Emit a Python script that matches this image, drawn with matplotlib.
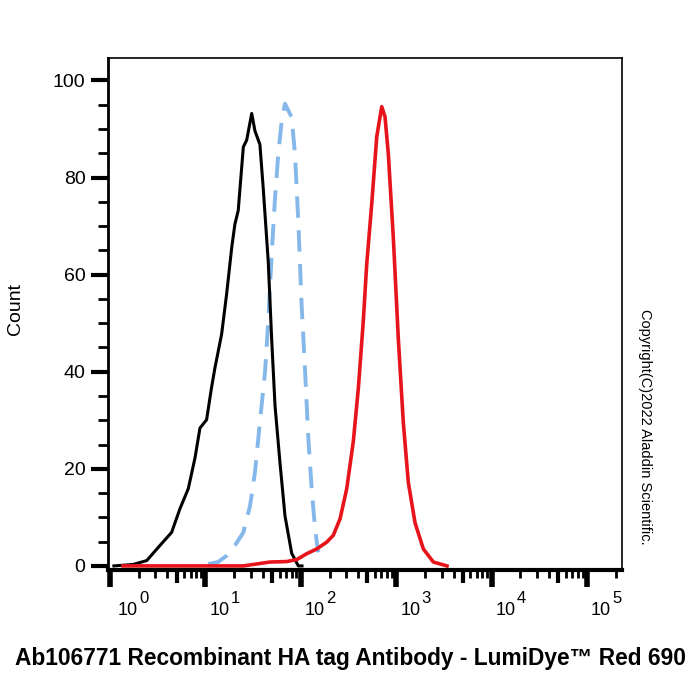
import matplotlib.pyplot as plt
from matplotlib.ticker import FixedLocator, NullFormatter
from matplotlib.transforms import blended_transform_factory, offset_copy

plt.rcParams['font.family'] = ['Liberation Sans', 'DejaVu Sans']

# isotype control (black)
black_x = [1.1, 1.75, 2.43, 3.34, 4.43, 5.42, 6.62, 7.78, 8.78, 10.3, 11.6, 12.6, 14.8,
           16.7, 18.9, 20.4, 22.1, 25.0, 27.1, 30.6, 33.1, 37.3, 40.4, 45.6, 49.5, 53.7,
           60.5, 68.3, 80.3, 94.2, 103]
black_y = [0, 0.3, 1.1, 4.2, 6.9, 11.8, 15.9, 22.2, 28.4, 30.1, 36.7, 40.8, 47.7,
           56, 65.6, 70.4, 73.2, 86.3, 87.7, 93.2, 89.6, 86.8, 77.8, 62.7, 46.8, 33,
           21.3, 10.3, 2.6, 0, 0]

# unstained (blue dashed)
blue_x = [10.7, 13.6, 16.7, 20.4, 25.0, 29.4, 33.1, 37.3, 42.2, 45.6, 49.5, 53.7, 58.1,
          63.1, 68.3, 80.3, 86.9, 94.2, 102, 111, 120, 130, 141, 152]
blue_y = [0.4, 0.8, 2.1, 4.2, 6.9, 12.4, 19.3, 29.6, 40, 50.3, 64.1, 75.8, 84.8,
          91.7, 95.2, 92.4, 84.8, 71, 53.8, 40, 26.2, 15.9, 7.7, 2.8]

# HA tag antibody (red)
red_x = [1.37, 25.0, 34.5, 47.5, 71.2, 90.6, 115, 147, 187, 219, 258, 303, 355, 401,
         452, 491, 554, 625, 705, 763, 827, 933, 1052, 1186, 1339, 1574, 1923, 2449, 3405]
red_y = [0, 0, 0.4, 0.8, 0.9, 1.3, 2.5, 3.5, 4.9, 6.3, 9.7, 15.9, 25.6, 36.6,
         50.5, 62.2, 74.6, 88.4, 94.6, 92.5, 84.8, 67.5, 46.8, 29.6, 17.2, 8.9, 3.5, 0.8, 0]

decades = [0, 1, 2, 3, 4, 5]
y_major = [0, 20, 40, 60, 80, 100]

fig = plt.figure(figsize=(7, 7), dpi=100)
ax = fig.add_axes([0.154, 0.186, 0.734, 0.731])

ax.plot(blue_x, blue_y, color='#84b8ea', lw=2.8, dashes=(5.5, 3.2))
ax.plot(black_x, black_y, color='black', lw=2.2)
ax.plot(red_x, red_y, color='#e8141c', lw=2.6)

ax.set_xscale('log')
ax.set_xlim(0.95, 2.3e5)
ax.set_ylim(-0.8, 104.6)

# x ticks
ax.xaxis.set_major_locator(FixedLocator([10.0 ** d for d in decades]))
ax.xaxis.set_major_formatter(NullFormatter())
minors = [m * 10.0 ** d for d in decades for m in (2, 3, 4, 6, 7, 8, 9)]
ax.xaxis.set_minor_locator(FixedLocator(minors))
ax.xaxis.set_minor_formatter(NullFormatter())
ax.tick_params(axis='x', which='major', length=12, width=4)
ax.tick_params(axis='x', which='minor', length=6, width=2)

# medium ticks at 5 x 10^n
sec = ax.secondary_xaxis('bottom')
sec.spines['bottom'].set_visible(False)
sec.xaxis.set_major_locator(FixedLocator([5 * 10.0 ** d for d in decades]))
sec.xaxis.set_major_formatter(NullFormatter())
sec.xaxis.set_minor_locator(FixedLocator([]))
sec.tick_params(axis='x', which='major', length=9, width=3)

# decade labels: "10" with a large exponent
trans = blended_transform_factory(ax.transData, ax.transAxes)
for d in decades:
    dx = 8 if d == 0 else 4
    ax.text(10.0 ** d, 0, '10', fontsize=13, ha='left', va='baseline',
            transform=offset_copy(trans, fig=fig, x=dx, y=-45, units='dots'))
    ax.text(10.0 ** d, 0, str(d), fontsize=12, ha='left', va='baseline',
            transform=offset_copy(trans, fig=fig, x=dx + 21, y=-33, units='dots'))

# y ticks
ax.yaxis.set_major_locator(FixedLocator(y_major))
ax.yaxis.set_minor_locator(FixedLocator(range(0, 101, 5)))
ax.tick_params(axis='y', which='major', length=12, width=3, labelsize=14, pad=4)
ax.tick_params(axis='y', which='minor', length=7, width=2)

for s in ['top', 'right']:
    ax.spines[s].set_linewidth(1.2)
ax.spines['left'].set_linewidth(2)
ax.spines['bottom'].set_linewidth(3)

fig.text(0.022, 0.558, 'Count', rotation=90, ha='center', va='center', fontsize=14)
fig.text(0.5, 0.06, 'Ab106771 Recombinant HA tag Antibody - LumiDye\u2122 Red 690',
         ha='center', va='center', fontsize=16.4, fontweight='bold')
fig.text(0.921, 0.39, 'Copyright(C)2022 Aladdin Scientific.', rotation=-90,
         ha='center', va='center', fontsize=10.5)

fig.savefig('out.png', dpi=100)
